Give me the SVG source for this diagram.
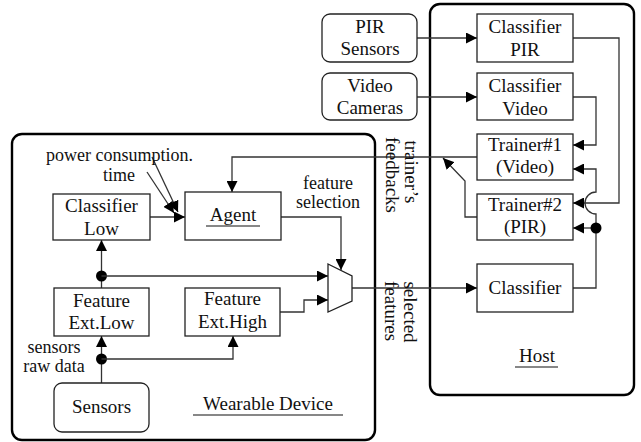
<svg xmlns="http://www.w3.org/2000/svg" width="641" height="442" viewBox="0 0 641 442">
  <style>
    text { font-family: "Liberation Serif", "Noto Serif", "Nimbus Roman", "Nimbus Roman No9 L", "FreeSerif", "Tinos", "Times", "DejaVu Serif", "Latin Modern Roman", serif; font-size: 19px; fill: #111; }
    .small { font-size: 18px; }
    .mid { text-anchor: middle; }
    .box { fill: #fff; stroke: #222; stroke-width: 1.3; }
    .frame { fill: none; stroke: #000; stroke-width: 2.4; }
    .wire { fill: none; stroke: #333; stroke-width: 1.3; }
    .arr { marker-end: url(#head); }
    .dot { fill: #000; }
    .ul { stroke: #111; stroke-width: 1.2; }
  </style>
  <defs>
    <marker id="head" viewBox="0 0 10 10" refX="10" refY="5" markerWidth="11" markerHeight="11" markerUnits="userSpaceOnUse" orient="auto">
      <path d="M0,0 L10,5 L0,10 z" fill="#000"/>
    </marker>
  </defs>

  <!-- enclosures -->
  <g id="wearable">
    <rect class="frame" x="12" y="134" width="363" height="306" rx="10"/>
    <text class="mid" x="268" y="410">Wearable Device</text>
    <line class="ul" x1="193" y1="415" x2="343" y2="415"/>
  </g>
  <g id="host">
    <rect class="frame" x="430" y="4" width="204" height="391" rx="10"/>
    <text class="mid" x="537" y="362">Host</text>
    <line class="ul" x1="515" y1="367" x2="558" y2="367"/>
  </g>

  <!-- connectors -->
  <g id="connectors">
    <path class="wire arr" d="M417,38 H477"/>
    <path class="wire arr" d="M417,97 H477"/>
    <path class="wire arr" d="M573,38 H619 V203 H573"/>
    <path class="wire arr" d="M573,97 H596 V145 H573"/>
    <path class="wire arr" d="M573,288 H596 V214 A11,11 0 0,1 596,192 V169 H573"/>
    <path class="wire arr" d="M596,228 H573"/>
    <circle class="dot" cx="596" cy="228" r="5.5"/>
    <path class="wire arr" d="M477,157 H232 V192"/>
    <path class="wire arr" d="M477,217 H465 V181 L443,158"/>
    <path class="wire arr" d="M352,288 H477"/>
    <path class="wire arr" d="M149,217 H185"/>
    <path class="wire arr" d="M152,157 L178,212"/>
    <path class="wire arr" d="M147,172 L174,213"/>
    <path class="wire arr" d="M281,217 H341 V270"/>
    <path class="wire arr" d="M101.5,288 V240"/>
    <circle class="dot" cx="101.5" cy="276" r="5.5"/>
    <path class="wire arr" d="M101.5,276 H328"/>
    <path class="wire arr" d="M280,312 H304 V300 H328"/>
    <path class="wire arr" d="M101.5,383 V336"/>
    <circle class="dot" cx="101.5" cy="359" r="5.5"/>
    <path class="wire arr" d="M101.5,359 H233 V336"/>
  </g>

  <!-- edge labels -->
  <g id="labels">
    <text class="mid small" x="119.5" y="161">power consumption.</text>
    <text class="mid small" x="119" y="181">time</text>
    <text class="mid small" x="54" y="353">sensors</text>
    <text class="mid small" x="54" y="372">raw data</text>
    <text class="mid small" x="328" y="189">feature</text>
    <text class="mid small" x="328" y="208">selection</text>
    <text class="mid" transform="translate(405,172) rotate(90)">trainer’s</text>
    <text class="mid" transform="translate(386,175) rotate(90)">feedbacks</text>
    <text class="mid" transform="translate(404,312) rotate(90)">selected</text>
    <text class="mid" transform="translate(385,311) rotate(90)">features</text>
  </g>

  <!-- nodes -->
  <g id="pir-sensors">
    <rect class="box" x="322" y="14" width="95" height="48" rx="8"/>
    <text class="mid" x="370" y="33">PIR</text>
    <text class="mid" x="370" y="55">Sensors</text>
  </g>
  <g id="video-cameras">
    <rect class="box" x="322" y="73" width="95" height="47" rx="8"/>
    <text class="mid" x="370" y="92">Video</text>
    <text class="mid" x="370" y="114">Cameras</text>
  </g>
  <g id="classifier-pir">
    <rect class="box" x="477" y="14" width="96" height="48"/>
    <text class="mid" x="525" y="33">Classifier</text>
    <text class="mid" x="525" y="56">PIR</text>
  </g>
  <g id="classifier-video">
    <rect class="box" x="477" y="73" width="96" height="47"/>
    <text class="mid" x="525" y="92">Classifier</text>
    <text class="mid" x="525" y="115">Video</text>
  </g>
  <g id="trainer1">
    <rect class="box" x="477" y="134" width="96" height="46"/>
    <text class="mid" x="525" y="151">Trainer#1</text>
    <text class="mid" x="525" y="173">(Video)</text>
  </g>
  <g id="trainer2">
    <rect class="box" x="477" y="194" width="96" height="46"/>
    <text class="mid" x="525" y="211">Trainer#2</text>
    <text class="mid" x="525" y="233">(PIR)</text>
  </g>
  <g id="classifier-host">
    <rect class="box" x="477" y="264" width="96" height="48"/>
    <text class="mid" x="525" y="294">Classifier</text>
  </g>
  <g id="classifier-low">
    <rect class="box" x="53" y="194" width="97" height="46"/>
    <text class="mid" x="101.5" y="212">Classifier</text>
    <text class="mid" x="101.5" y="235">Low</text>
  </g>
  <g id="agent">
    <rect class="box" x="185" y="192" width="96" height="48"/>
    <text class="mid" x="233" y="221">Agent</text>
    <line class="ul" x1="206" y1="226" x2="260" y2="226"/>
  </g>
  <g id="feature-low">
    <rect class="box" x="54" y="288" width="95" height="48"/>
    <text class="mid" x="101.5" y="307">Feature</text>
    <text class="mid" x="101.5" y="329">Ext.Low</text>
  </g>
  <g id="feature-high">
    <rect class="box" x="185" y="288" width="95" height="48"/>
    <text class="mid" x="232.5" y="305">Feature</text>
    <text class="mid" x="232.5" y="328">Ext.High</text>
  </g>
  <g id="sensors">
    <rect class="box" x="54" y="383" width="95" height="49" rx="8"/>
    <text class="mid" x="101.5" y="413">Sensors</text>
  </g>
  <g id="mux">
    <polygon class="box" points="328,264 352,276 352,301 328,312"/>
  </g>
</svg>
